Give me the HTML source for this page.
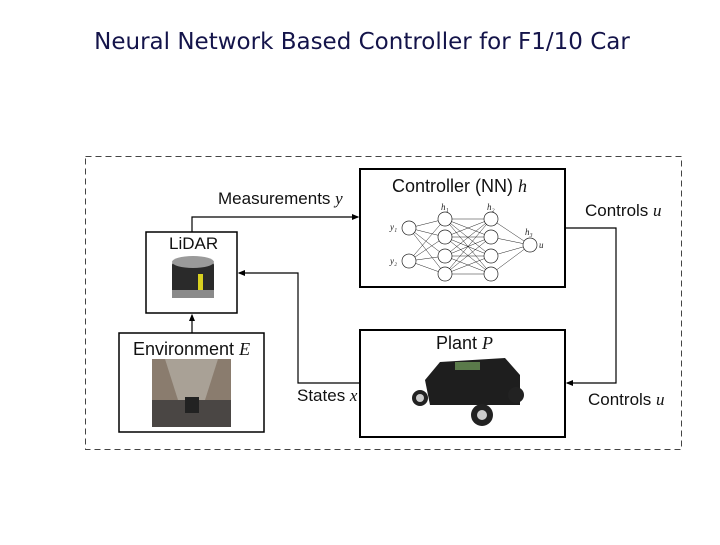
<!DOCTYPE html>
<html><head><meta charset="utf-8"><style>
body{margin:0;width:720px;height:540px;background:#fff;overflow:hidden}
</style></head><body>
<svg width="720" height="540" viewBox="0 0 720 540" xmlns="http://www.w3.org/2000/svg" font-family="Liberation Sans, DejaVu Sans, sans-serif">
<defs><marker id="a" markerWidth="6" markerHeight="6" refX="5" refY="3" orient="auto"><path d="M0,0.5 L6,3 L0,5.5z" fill="#000"/></marker></defs>
<text x="362" y="49" text-anchor="middle" font-size="23" font-family="DejaVu Sans, sans-serif" fill="#14144a">Neural Network Based Controller for F1/10 Car</text>
<rect x="85.5" y="156.5" width="596" height="293" fill="none" stroke="#444" stroke-dasharray="6,4"/>
<rect x="360" y="169" width="205" height="118" fill="#fff" stroke="#000" stroke-width="2"/>
<rect x="360" y="330" width="205" height="107" fill="#fff" stroke="#000" stroke-width="2"/>
<rect x="146" y="232" width="91" height="81" fill="#fff" stroke="#000" stroke-width="1.5"/>
<rect x="119" y="333" width="145" height="99" fill="#fff" stroke="#000" stroke-width="1.5"/>
<g fill="none" stroke="#000" stroke-width="1.2">
<path d="M192 232 V217 H358" marker-end="url(#a)"/>
<path d="M360 383 H298 V273 H239" marker-end="url(#a)"/>
<path d="M192 333 V315" marker-end="url(#a)"/>
<path d="M565 228 H616 V383 H567" marker-end="url(#a)"/>
</g>
<g fill="#111">
<text x="218" y="204" font-size="17">Measurements <tspan font-family="Liberation Serif" font-style="italic">y</tspan></text>
<text x="392" y="192" font-size="18">Controller (NN) <tspan font-family="Liberation Serif" font-style="italic">h</tspan></text>
<text x="585" y="216" font-size="17">Controls <tspan font-family="Liberation Serif" font-style="italic">u</tspan></text>
<text x="588" y="405" font-size="17">Controls <tspan font-family="Liberation Serif" font-style="italic">u</tspan></text>
<text x="297" y="401" font-size="17">States <tspan font-family="Liberation Serif" font-style="italic">x</tspan></text>
<text x="169" y="249" font-size="17">LiDAR</text>
<text x="133" y="355" font-size="18">Environment <tspan font-family="Liberation Serif" font-style="italic">E</tspan></text>
<text x="436" y="349" font-size="18">Plant <tspan font-family="Liberation Serif" font-style="italic">P</tspan></text>
</g>
<g stroke="#222" stroke-width="0.5" fill="none">
<path d="M409 228L445 219M409 228L445 237M409 228L445 256M409 228L445 274M409 261L445 219M409 261L445 237M409 261L445 256M409 261L445 274"/>
<path d="M445 219L491 219M445 219L491 237M445 219L491 256M445 219L491 274M445 237L491 219M445 237L491 237M445 237L491 256M445 237L491 274M445 256L491 219M445 256L491 237M445 256L491 256M445 256L491 274M445 274L491 219M445 274L491 237M445 274L491 256M445 274L491 274"/>
<path d="M491 219L530 245M491 237L530 245M491 256L530 245M491 274L530 245"/>
</g>
<g fill="#fff" stroke="#222" stroke-width="0.7">
<circle cx="409" cy="228" r="7"/><circle cx="409" cy="261" r="7"/>
<circle cx="445" cy="219" r="7"/><circle cx="445" cy="237" r="7"/><circle cx="445" cy="256" r="7"/><circle cx="445" cy="274" r="7"/>
<circle cx="491" cy="219" r="7"/><circle cx="491" cy="237" r="7"/><circle cx="491" cy="256" r="7"/><circle cx="491" cy="274" r="7"/>
<circle cx="530" cy="245" r="7"/>
</g>
<g font-family="Liberation Serif" font-style="italic" font-size="9" fill="#222">
<text x="441" y="210">h₁</text><text x="487" y="210">h₂</text><text x="525" y="235">h₃</text>
<text x="390" y="230">y₁</text><text x="390" y="264">y₂</text><text x="539" y="248">u</text>
</g>
<rect x="172" y="262" width="42" height="36" rx="3" fill="#2a2a2a"/>
<ellipse cx="193" cy="262" rx="21" ry="6" fill="#9a9a9a"/>
<rect x="198" y="274" width="5" height="20" fill="#d8d020"/>
<rect x="172" y="290" width="42" height="8" fill="#8a8a8a"/>
<rect x="152" y="359" width="79" height="68" fill="#8a7c6e"/>
<polygon points="165,359 218,359 205,400 178,400" fill="#a9a196"/>
<rect x="152" y="400" width="79" height="27" fill="#4a4644"/>
<rect x="185" y="397" width="14" height="16" fill="#222"/>
<path d="M425 380 L440 362 L505 358 L520 375 L520 405 L430 405 Z" fill="#1e1e1e"/>
<rect x="455" y="362" width="25" height="8" fill="#5a7a4a"/>
<circle cx="420" cy="398" r="8" fill="#222"/><circle cx="420" cy="398" r="4" fill="#ccc"/>
<circle cx="482" cy="415" r="11" fill="#222"/><circle cx="482" cy="415" r="5" fill="#ccc"/>
<circle cx="516" cy="395" r="8" fill="#222"/>
</svg>
</body></html>
